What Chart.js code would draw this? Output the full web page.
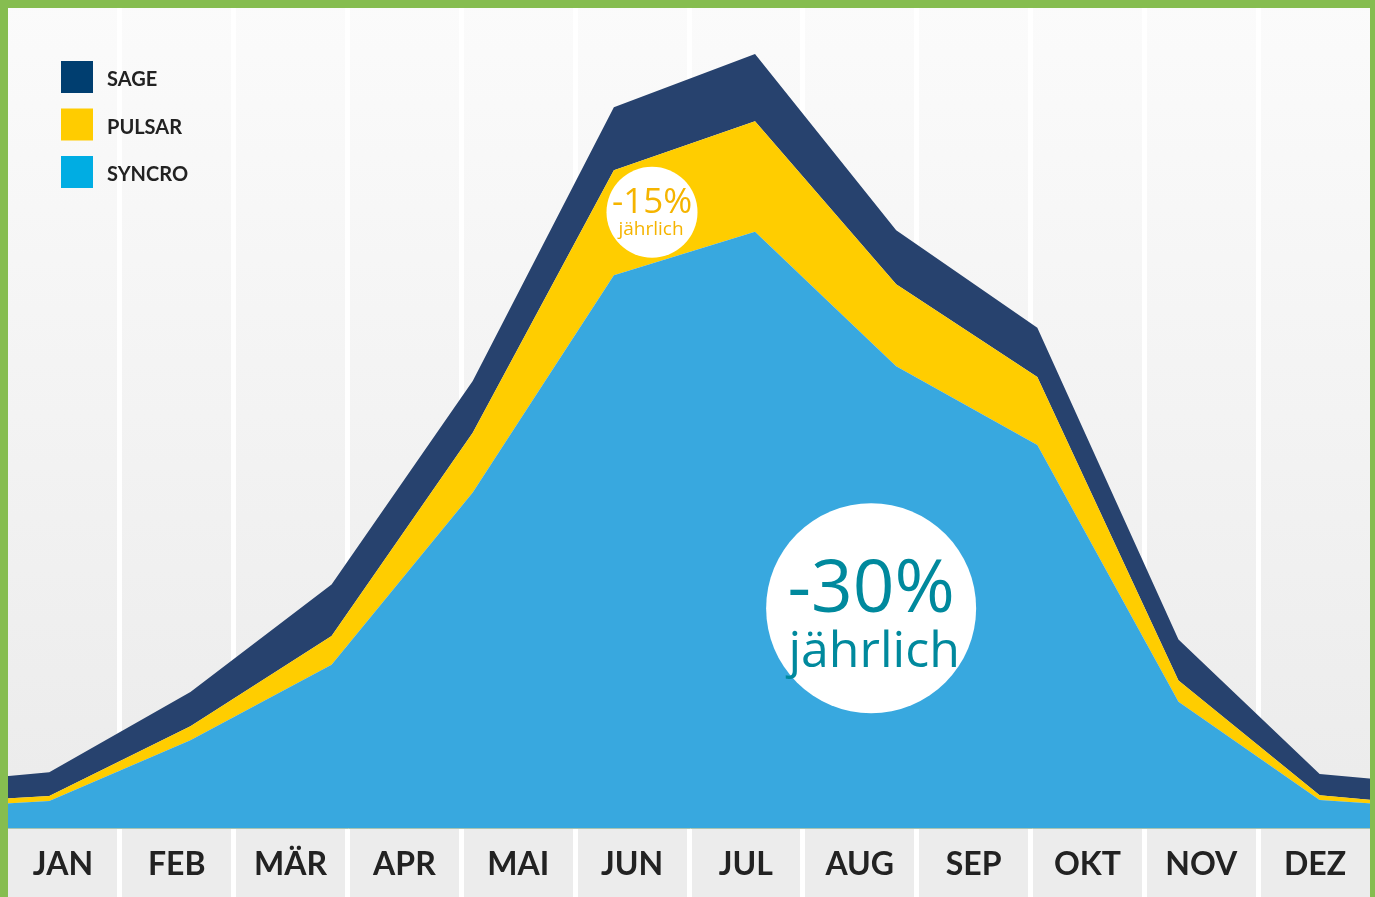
<!DOCTYPE html>
<html>
<head>
<meta charset="utf-8">
<script src="https://cdn.jsdelivr.net/npm/chart.js@4/dist/chart.umd.min.js"></script>
<style>
    body { margin: 0; background: #ececec; }
    #wrap { position: relative; width: 1375px; height: 897px; overflow: hidden; }
    #energyChart {
        display: block;
        background: linear-gradient(to bottom, #fbfbfb 0px, #ebebeb 828px, #ececec 828px);
    }
    #frame {
        position: absolute; left: 0; top: 0; right: 0; bottom: 0;
        border-top: 8px solid #86bd50; border-left: 8px solid #86bd50; border-right: 5px solid #86bd50;
        pointer-events: none;
    }
</style>
</head>
<body>
<div id="wrap">
    <canvas id="energyChart" width="1375" height="897"></canvas>
    <div id="frame"></div>
</div>
<script>
// month columns along the bottom
const months = ['JAN', 'FEB', 'MÄR', 'APR', 'MAI', 'JUN', 'JUL', 'AUG', 'SEP', 'OKT', 'NOV', 'DEZ'];

// sample positions, in month-column units (0 = left edge, 12 = right edge)
const xPos = [0, 0.38, 1.62, 2.86, 4.1, 5.34, 6.58, 7.82, 9.06, 10.3, 11.54, 12];

// stacked series (share of chart height)
const syncro = [3.0, 3.3, 10.7, 19.9, 40.9, 67.4, 72.7, 56.3, 46.7, 15.4, 3.4, 3.0];
const pulsar = [0.6, 0.6, 1.7, 3.5, 7.3, 12.8, 13.5, 10.0, 8.3, 2.6, 0.6, 0.4];
const sage = [2.7, 2.9, 4.2, 6.3, 6.3, 7.7, 8.2, 6.6, 6.0, 5.0, 2.6, 2.6];

// savings badges
const badgeText = ['-15%', '-30%'];
const badgeSub = ['jährlich', 'jährlich'];
const badgeX = [5.675, 7.6];
const badgeY = [75.1, 26.8];

const legendColors = { SAGE: '#003e70', PULSAR: '#ffcc00', SYNCRO: '#00ade3' };

const toPoints = (vals) => xPos.map((x, i) => ({ x: x, y: vals[i] }));

// little square legend in the top left corner
const boxLegend = {
    id: 'boxLegend',
    afterDraw(chart) {
        const ctx = chart.ctx;
        ctx.save();
        ctx.font = "bold 20px Lato";
        ctx.textBaseline = 'middle';
        chart.data.datasets.slice().reverse().forEach((ds, i) => {
            const y = 61 + i * 47.5;
            ctx.fillStyle = legendColors[ds.label];
            ctx.fillRect(61, y, 32, 32);
            ctx.fillStyle = '#222';
            ctx.fillText(ds.label, 107, y + 19);
        });
        ctx.restore();
    }
};

// white circles with the percentage
const badges = {
    id: 'badges',
    afterDatasetsDraw(chart) {
        const ctx = chart.ctx;
        const xs = chart.scales.x;
        const ys = chart.scales.y;
        const styles = [
            { r: 45.5, color: '#f5b400', big: 35, small: 19, bigOff: 1, smallOff: 23, subShift: -1 },
            { r: 105, color: '#00899d', big: 73, small: 50, bigOff: 4, smallOff: 59, subShift: 3 }
        ];
        ctx.save();
        badgeText.forEach((txt, i) => {
            const s = styles[i];
            const cx = xs.getPixelForValue(badgeX[i]);
            const cy = ys.getPixelForValue(badgeY[i]);
            ctx.beginPath();
            ctx.arc(cx, cy, s.r, 0, Math.PI * 2);
            ctx.fillStyle = '#fff';
            ctx.fill();
            ctx.fillStyle = s.color;
            ctx.textAlign = 'center';
            ctx.textBaseline = 'alphabetic';
            ctx.font = s.big + "px 'Open Sans'";
            ctx.fillText(txt, cx, cy + s.bigOff);
            ctx.font = s.small + "px 'Open Sans'";
            ctx.fillText(badgeSub[i], cx + s.subShift, cy + s.smallOff);
        });
        ctx.restore();
    }
};

const ctx = document.getElementById('energyChart').getContext('2d');
const energyChart = new Chart(ctx, {
    type: 'line',
    data: {
        datasets: [{
            label: 'SYNCRO',
            data: toPoints(syncro),
            backgroundColor: '#38a8df',
            fill: 'origin'
        }, {
            label: 'PULSAR',
            data: toPoints(pulsar),
            backgroundColor: '#ffcd00',
            fill: '-1'
        }, {
            label: 'SAGE',
            data: toPoints(sage),
            backgroundColor: '#27426e',
            fill: '-1'
        }]
    },
    options: {
        responsive: false,
        animation: false,
        devicePixelRatio: 1,
        layout: {
            padding: { left: 6, right: 3, top: 8, bottom: 0 }
        },
        elements: {
            line: { borderWidth: 0, tension: 0 },
            point: { radius: 0 }
        },
        plugins: {
            legend: { display: false },
            tooltip: { enabled: false }
        },
        scales: {
            x: {
                type: 'linear',
                min: 0,
                max: 12,
                afterBuildTicks: (scale) => {
                    scale.ticks = months.map((m, i) => ({ value: i + 0.5 }));
                },
                afterFit: (scale) => {
                    scale.height = 69;
                },
                grid: {
                    color: '#ffffff',
                    lineWidth: 5,
                    offset: true,
                    drawTicks: true,
                    tickLength: 69
                },
                border: { display: true, color: '#a9c4b2', width: 1 },
                ticks: {
                    autoSkip: false,
                    maxRotation: 0,
                    padding: -52,
                    color: '#222',
                    font: { family: 'Lato', weight: 'bold', size: 32 },
                    callback: (v, i) => months[i]
                }
            },
            y: {
                display: false,
                stacked: true,
                min: 0,
                max: 100
            }
        }
    },
    plugins: [badges, boxLegend]
});
</script>
</body>
</html>
